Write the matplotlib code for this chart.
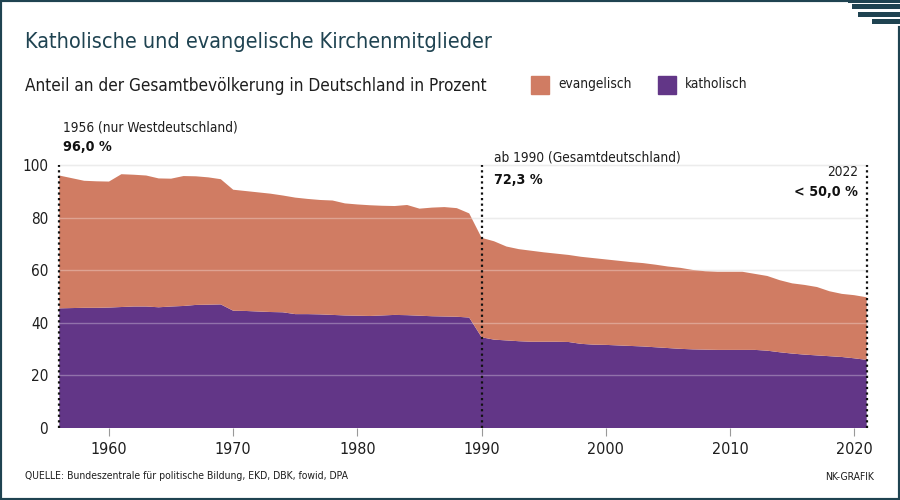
import matplotlib
matplotlib.use("Agg")
import matplotlib.pyplot as plt
from matplotlib.patches import Rectangle
from matplotlib.lines import Line2D


years = list(range(1956, 2022))
katholisch = [45.5, 45.6, 45.7, 45.7, 45.8, 46.0, 46.2, 46.2, 45.9, 46.2,
              46.4, 46.8, 46.9, 47.0, 44.6, 44.5, 44.3, 44.1, 44.0, 43.3,
              43.3, 43.2, 43.0, 42.8, 42.7, 42.6, 42.8, 43.0, 42.9, 42.7,
              42.5, 42.4, 42.3, 42.0, 34.5, 33.6, 33.3, 33.0, 32.8, 32.8,
              32.8, 32.7, 32.0, 31.7, 31.6, 31.4, 31.2, 31.0, 30.7, 30.4,
              30.1, 29.9, 29.8, 29.7, 29.7, 29.7, 29.7, 29.4, 28.8, 28.3,
              27.9, 27.6, 27.3, 27.0, 26.5, 25.9]
evangelisch = [50.5, 49.4, 48.3, 48.1, 47.9, 50.5, 50.1, 49.8, 49.0, 48.6,
               49.4, 48.9, 48.4, 47.6, 46.0, 45.6, 45.3, 45.0, 44.4, 44.3,
               43.8, 43.5, 43.5, 42.6, 42.3, 42.1, 41.7, 41.4, 41.9, 40.7,
               41.3, 41.6, 41.3, 39.6, 37.8, 37.4, 35.7, 35.0, 34.6, 34.0,
               33.5, 33.1, 33.1, 32.9, 32.5, 32.2, 31.9, 31.7, 31.4, 31.0,
               30.8, 30.2, 29.8, 29.7, 29.7, 29.7, 28.9, 28.4, 27.4, 26.7,
               26.5, 26.0, 24.7, 24.0, 24.0, 23.8]
marker_years = [1956, 1990, 2021]
xticks = [1960, 1970, 1980, 1990, 2000, 2010, 2020]
yticks = [0, 20, 40, 60, 80, 100]

col_ev = '#d07c63'
col_kath = '#623687'
col_dark = '#1f4351'
col_text = '#1e1e1e'

plt.rcParams['font.family'] = ['DejaVu Sans']
plt.rcParams['font.stretch'] = 'condensed'

W, H = 900, 500


def fx(x):
    return x / W


def fy(y):
    return 1 - y / H


fig = plt.figure(figsize=(9, 5), dpi=100)
ax = fig.add_axes([fx(59.3), fy(428), (866.7 - 59.3) / W, (428 - 165) / H])

ax.stackplot(years, katholisch, evangelisch, colors=[col_kath, col_ev],
             linewidth=0, zorder=2)

# gridlines: grey on white, light over the areas
for y in yticks[1:]:
    ax.axhline(y, color='#e4e4e4', lw=1, zorder=1, clip_on=False)
    ax.axhline(y, color='white', alpha=0.3, lw=1, zorder=3, clip_on=False)

for x in marker_years:
    ax.axvline(x, ymax=1.0, color='#111111', ls=(0, (1, 1.5)), lw=1.6,
               zorder=4, clip_on=False)

ax.set_xlim(years[0], years[-1])
ax.set_ylim(0, 100)
ax.set_xticks(xticks)
ax.set_yticks(yticks)
ax.tick_params(axis='x', length=6, color='#999999', labelsize=11.5,
               labelcolor=col_text, pad=4)
ax.tick_params(axis='y', length=0, labelsize=11, labelcolor=col_text, pad=8)
for s in ax.spines.values():
    s.set_visible(False)

# annotations
ax.text(1956.3, 114.4, "1956 (nur Westdeutschland)", fontsize=9.8,
        color=col_text, va='center', ha='left', clip_on=False)
ax.text(1956.3, 106.8, "96,0 %", fontsize=10.3, fontweight='bold',
        color='#111111', va='center', ha='left', clip_on=False)
ax.text(1991.0, 102.7, "ab 1990 (Gesamtdeutschland)", fontsize=9.8,
        color=col_text, va='center', ha='left', clip_on=False)
ax.text(1991.0, 94.3, "72,3 %", fontsize=10.3, fontweight='bold',
        color='#111111', va='center', ha='left', clip_on=False)
ax.text(2020.3, 97.3, "2022", fontsize=9.8, color=col_text,
        va='center', ha='right', clip_on=False)
ax.text(2020.3, 89.7, "< 50,0 %", fontsize=10.3, fontweight='bold',
        color='#111111', va='center', ha='right', clip_on=False)

# title block
fig.text(fx(25), fy(42), "Katholische und evangelische Kirchenmitglieder",
         fontsize=15.5, color=col_dark, va='center', ha='left')
fig.text(fx(25), fy(86), "Anteil an der Gesamtbevölkerung in Deutschland in Prozent",
         fontsize=12.3, color=col_text, va='center', ha='left')

# legend
for x0, label, col in [(531, "evangelisch", col_ev), (658, "katholisch", col_kath)]:
    fig.patches.append(Rectangle((fx(x0), fy(94)), 18 / W, 18 / H,
                                 transform=fig.transFigure, color=col))
    fig.text(fx(x0 + 27), fy(84), label, fontsize=9.8, color=col_text,
             va='center', ha='left')

# footer
fig.text(fx(25), fy(476), "QUELLE: Bundeszentrale für politische Bildung, EKD, DBK, fowid, DPA",
         fontsize=7.5, color=col_text, va='center', ha='left')
fig.text(fx(874), fy(477), "NK-GRAFIK", fontsize=7.5, color=col_text,
         va='center', ha='right')

# frame
frame = dict(color=col_dark, lw=3, transform=fig.transFigure)
fig.lines.append(Line2D([0, 0], [0, 1], **frame))
fig.lines.append(Line2D([0, fx(850)], [1, 1], **frame))
fig.lines.append(Line2D([0, 1], [0, 0], **frame))
fig.lines.append(Line2D([1, 1], [0, fy(28)], **frame))

# corner stripes
for x0, y0, y1 in [(848, 0, 2.7), (851.7, 4, 9.3), (858, 11.7, 16.7), (871.7, 19.3, 24)]:
    fig.patches.append(Rectangle((fx(x0), fy(y1)), (W - x0) / W, (y1 - y0) / H,
                                 transform=fig.transFigure, color=col_dark, lw=0))

fig.savefig("out.png", dpi=100)
